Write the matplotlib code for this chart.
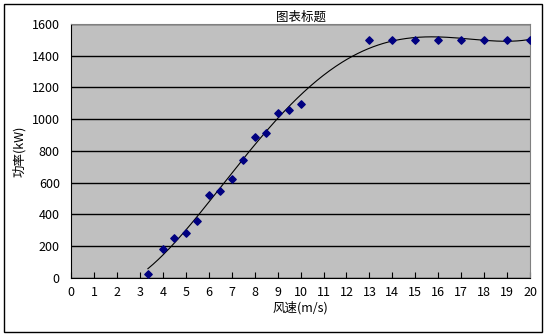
# wind turbine power curve, Excel style scatter with polynomial trendline
import numpy as np
import matplotlib.pyplot as plt
from matplotlib.patches import Rectangle

plt.rcParams['font.family'] = ['Noto Sans CJK SC', 'DejaVu Sans']

wind_speed = [3.35, 4, 4.5, 5, 5.5, 6, 6.5, 7, 7.5, 8, 8.5, 9, 9.5, 10,
              13, 14, 15, 16, 17, 18, 19, 20]
power = [25, 180, 250, 280, 360, 520, 550, 620, 745, 890, 910, 1040, 1060, 1095,
         1500, 1500, 1500, 1500, 1500, 1500, 1500, 1500]
x_ticks = list(range(0, 21))
y_ticks = list(range(0, 1601, 200))


def main():
    x = np.array(wind_speed)
    y = np.array(power)
    fig = plt.figure(figsize=(5.46, 3.36), dpi=100)
    fig.add_artist(Rectangle((0.008, 0.012), 0.985, 0.976, transform=fig.transFigure,
                             fill=False, edgecolor='black', linewidth=1))
    ax = fig.add_axes([0.130, 0.173, 0.841, 0.756])
    ax.set_facecolor('#c0c0c0')

    # polynomial trendline (4th order)
    coef = np.polyfit(x, y, 4)
    xs = np.linspace(x.min(), x.max(), 300)
    ax.plot(xs, np.polyval(coef, xs), color='black', linewidth=0.8, zorder=2)
    ax.scatter(x, y, marker='D', s=14, color='#000080', zorder=3)

    ax.set_xlim(0, 20)
    ax.set_ylim(0, 1600)
    ax.set_xticks(x_ticks)
    ax.set_yticks(y_ticks)
    ax.yaxis.grid(True, color='black', linewidth=1)
    ax.set_axisbelow(True)
    ax.tick_params(axis='x', direction='in', length=4, labelsize=9, pad=6)
    ax.tick_params(axis='y', length=0, labelsize=9, pad=8)
    for side in ['top', 'right']:
        ax.spines[side].set_color('#808080')
    ax.spines['left'].set_color('black')
    ax.spines['bottom'].set_color('black')

    ax.set_xlabel('风速(m/s)', fontsize=9, labelpad=1)
    ax.set_ylabel('功率(kW)', fontsize=9, labelpad=4)
    ax.set_title('图表标题', fontsize=9, pad=1)
    fig.savefig('out.png', dpi=100)


if __name__ == "__main__":
    main()
